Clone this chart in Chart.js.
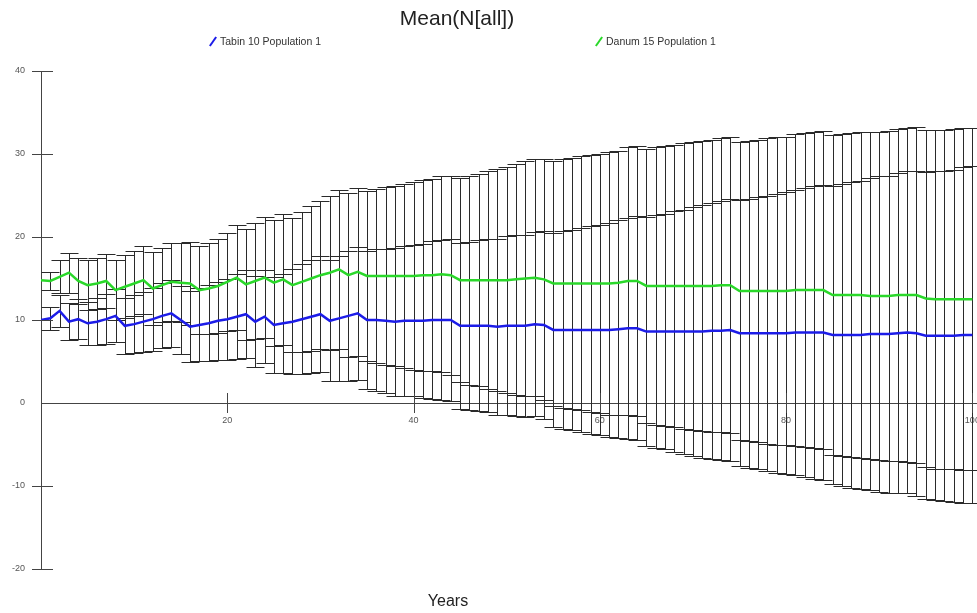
<!DOCTYPE html>
<html>
<head>
<meta charset="utf-8">
<script src="https://cdn.jsdelivr.net/npm/chart.js@4.4.0/dist/chart.umd.min.js"></script>
<style>
  html, body { margin: 0; padding: 0; background: #fff; overflow: hidden; }
  #wrap { position: relative; width: 1000px; height: 613px; font-family: "Liberation Sans", Arial, sans-serif; }
  canvas { position: absolute; left: 0; top: 0; }
  .title { position: absolute; top: 6px; left: 0; width: 914px; text-align: center; font-size: 21px; color: #222; }
  .leg { position: absolute; top: 35px; font-size: 10.5px; color: #333; white-space: nowrap; }
  .leg i { display: inline-block; width: 2px; height: 11px; margin-right: 6px; vertical-align: -2px; transform: rotate(35deg); }
  .xtitle { position: absolute; top: 592px; left: 0; width: 896px; text-align: center; font-size: 16px; color: #222; }
</style>
</head>
<body>
<div id="wrap">
  <canvas id="chart" width="1000" height="613"></canvas>
  <div class="title">Mean(N[all])</div>
  <div class="leg" style="left:212px"><i style="background:#1c1ce8"></i>Tabin 10 Population 1</div>
  <div class="leg" style="left:598px"><i style="background:#2ad82a"></i>Danum 15 Population 1</div>
  <div class="xtitle">Years</div>
</div>
<script>
const years = [0,1,2,3,4,5,6,7,8,9,10,11,12,13,14,15,16,17,18,19,20,21,22,23,24,25,26,27,28,29,30,
  31,32,33,34,35,36,37,38,39,40,41,42,43,44,45,46,47,48,49,50,51,52,53,54,55,56,57,58,59,60,
  61,62,63,64,65,66,67,68,69,70,71,72,73,74,75,76,77,78,79,80,81,82,83,84,85,86,87,88,89,90,
  91,92,93,94,95,96,97,98,99,100];

// Tabin 10 Population 1 (blue)
const tabinMean = [10.0,10.2,11.1,9.8,10.1,9.6,9.8,10.1,10.5,9.3,9.5,9.8,10.1,10.5,10.8,10.0,9.2,9.4,9.6,9.9,10.1,
  10.4,10.7,9.8,10.4,9.4,9.6,9.8,10.1,10.4,10.7,9.9,10.2,10.5,10.8,10.0,10.0,9.9,9.8,9.9,9.9,
  9.9,10.0,10.0,10.0,9.3,9.3,9.3,9.3,9.2,9.3,9.3,9.3,9.5,9.4,8.8,8.8,8.8,8.8,8.8,8.8,
  8.8,8.9,9.0,9.0,8.6,8.6,8.6,8.6,8.6,8.6,8.6,8.7,8.7,8.8,8.4,8.4,8.4,8.4,8.4,8.4,
  8.5,8.5,8.5,8.5,8.2,8.2,8.2,8.2,8.3,8.3,8.3,8.4,8.5,8.4,8.1,8.1,8.1,8.1,8.2,8.2];
const tabinSD = [0,1.4,1.9,2.2,2.4,2.6,2.8,3.0,3.2,3.4,3.5,3.6,3.8,3.9,4.0,4.1,4.3,4.4,4.6,4.7,4.9,
  5.1,5.3,5.5,5.6,5.8,6.0,6.3,6.6,6.8,7.0,7.3,7.5,7.8,8.0,8.3,8.5,8.7,8.9,9.0,9.1,
  9.3,9.5,9.6,9.8,10.0,10.1,10.3,10.4,10.6,10.8,10.9,11.0,11.1,11.3,11.7,11.9,12.1,12.3,12.5,12.7,
  12.9,13.1,13.3,13.5,13.8,14.0,14.2,14.5,14.7,15.0,15.2,15.4,15.6,15.8,16.0,16.2,16.4,16.6,16.8,17.0,
  17.2,17.4,17.6,17.8,18.0,18.2,18.4,18.6,18.8,19.0,19.1,19.3,19.4,19.6,19.7,19.8,19.9,20.0,20.2,20.3];

// Danum 15 Population 1 (green)
const danumMean = [14.8,14.7,15.2,15.7,14.7,14.2,14.4,14.7,13.6,14.0,14.4,14.8,13.8,14.2,14.6,14.5,14.4,13.6,13.8,14.1,14.6,
  15.1,14.3,14.7,15.1,14.5,14.9,14.2,14.6,15.0,15.4,15.7,16.1,15.4,15.8,15.3,15.3,15.3,15.3,15.3,15.3,
  15.4,15.4,15.5,15.4,14.8,14.8,14.8,14.8,14.8,14.8,14.9,15.0,15.1,14.9,14.4,14.4,14.4,14.4,14.4,14.4,
  14.4,14.5,14.7,14.7,14.1,14.1,14.1,14.1,14.1,14.1,14.1,14.1,14.2,14.2,13.5,13.5,13.5,13.5,13.5,13.5,
  13.6,13.6,13.6,13.6,13.0,13.0,13.0,13.0,12.9,12.9,12.9,13.0,13.0,13.0,12.6,12.5,12.5,12.5,12.5,12.5];
const danumSD = [0,1.1,2.0,2.4,2.8,3.0,3.1,3.3,3.6,3.8,3.9,4.1,4.4,4.5,4.7,4.8,5.0,5.3,5.5,5.7,5.9,
  6.3,6.7,7.0,7.3,7.6,7.9,8.1,8.4,8.7,8.9,9.3,9.6,9.9,10.1,10.3,10.5,10.7,10.9,11.1,11.3,
  11.5,11.6,11.8,12.0,12.3,12.6,12.8,13.1,13.4,13.6,13.9,14.1,14.3,14.5,14.8,15.0,15.1,15.3,15.5,15.6,
  15.8,15.9,16.1,16.3,16.5,16.7,16.9,17.0,17.2,17.4,17.5,17.6,17.7,17.8,17.9,18.1,18.2,18.4,18.5,18.6,
  18.8,18.9,19.0,19.2,19.3,19.4,19.5,19.6,19.7,19.8,19.9,20.0,20.1,20.2,20.3,20.4,20.4,20.5,20.6,20.6];

const xTicks = [20, 40, 60, 80, 100];
const yTicks = [-20, -10, 0, 10, 20, 30, 40];

// mean +/- sd bars, drawn under the lines
const errorBars = {
  id: 'errorBars',
  beforeDatasetsDraw(chart) {
    const { ctx, scales: { x, y }, chartArea } = chart;
    ctx.save();
    ctx.beginPath();
    ctx.rect(chartArea.left, chartArea.top, chartArea.width, chartArea.height);
    ctx.clip();
    ctx.strokeStyle = '#2a2a2a';
    ctx.lineWidth = 1;
    chart.data.datasets.forEach(ds => {
      ds.sd.forEach((s, i) => {
        if (!s) return;
        const px = Math.round(x.getPixelForValue(years[i])) + 0.5;
        const top = Math.round(y.getPixelForValue(ds.mean[i] + s)) + 0.5;
        const bot = Math.round(y.getPixelForValue(ds.mean[i] - s)) + 0.5;
        ctx.beginPath();
        ctx.moveTo(px, top); ctx.lineTo(px, bot);
        ctx.moveTo(px - 9, top); ctx.lineTo(px + 9, top);
        ctx.moveTo(px - 9, bot); ctx.lineTo(px + 9, bot);
        ctx.stroke();
      });
    });
    ctx.restore();
  }
};

// tick marks that cross the axis lines
const crossTicks = {
  id: 'crossTicks',
  afterDraw(chart) {
    const { ctx, scales: { x, y } } = chart;
    const x0 = x.getPixelForValue(0), y0 = y.getPixelForValue(0);
    ctx.save();
    ctx.strokeStyle = '#444';
    ctx.lineWidth = 1;
    ctx.beginPath();
    yTicks.forEach(v => {
      if (v === 0) return;
      const py = Math.round(y.getPixelForValue(v)) + 0.5;
      ctx.moveTo(x0 - 9, py); ctx.lineTo(x0 + 12, py);
    });
    xTicks.forEach(v => {
      const px = Math.round(x.getPixelForValue(v)) + 0.5;
      ctx.moveTo(px, y0 - 10); ctx.lineTo(px, y0 + 10);
    });
    ctx.stroke();
    ctx.restore();
  }
};

const tickFont = { family: '"Liberation Sans", Arial, sans-serif', size: 9 };

new Chart(document.getElementById('chart'), {
  type: 'line',
  data: {
    datasets: [
      {
        label: 'Tabin 10 Population 1',
        data: years.map((yr, i) => ({ x: yr, y: tabinMean[i] })),
        mean: tabinMean, sd: tabinSD,
        borderColor: '#1c1ce8', borderWidth: 2.5, pointRadius: 0, tension: 0
      },
      {
        label: 'Danum 15 Population 1',
        data: years.map((yr, i) => ({ x: yr, y: danumMean[i] })),
        mean: danumMean, sd: danumSD,
        borderColor: '#2ad82a', borderWidth: 2.5, pointRadius: 0, tension: 0
      }
    ]
  },
  options: {
    responsive: false,
    animation: false,
    layout: { padding: { top: 71, bottom: 44, left: 0, right: 9 } },
    plugins: { legend: { display: false }, tooltip: { enabled: false } },
    scales: {
      x: {
        type: 'linear', min: 0, max: 102,
        position: { y: 0 },
        grid: { display: false, drawTicks: false },
        border: { color: '#444', width: 1 },
        ticks: { font: tickFont, color: '#555', padding: 12, maxRotation: 0 },
        afterBuildTicks: s => { s.ticks = xTicks.map(v => ({ value: v })); }
      },
      y: {
        type: 'linear', min: -20, max: 40,
        position: 'left',
        afterFit: s => { s.width = 41; },
        grid: { display: false, drawTicks: false },
        border: { color: '#444', width: 1 },
        ticks: { font: tickFont, color: '#555', padding: 16 },
        afterBuildTicks: s => { s.ticks = yTicks.map(v => ({ value: v })); }
      }
    }
  },
  plugins: [errorBars, crossTicks]
});
</script>
</body>
</html>
